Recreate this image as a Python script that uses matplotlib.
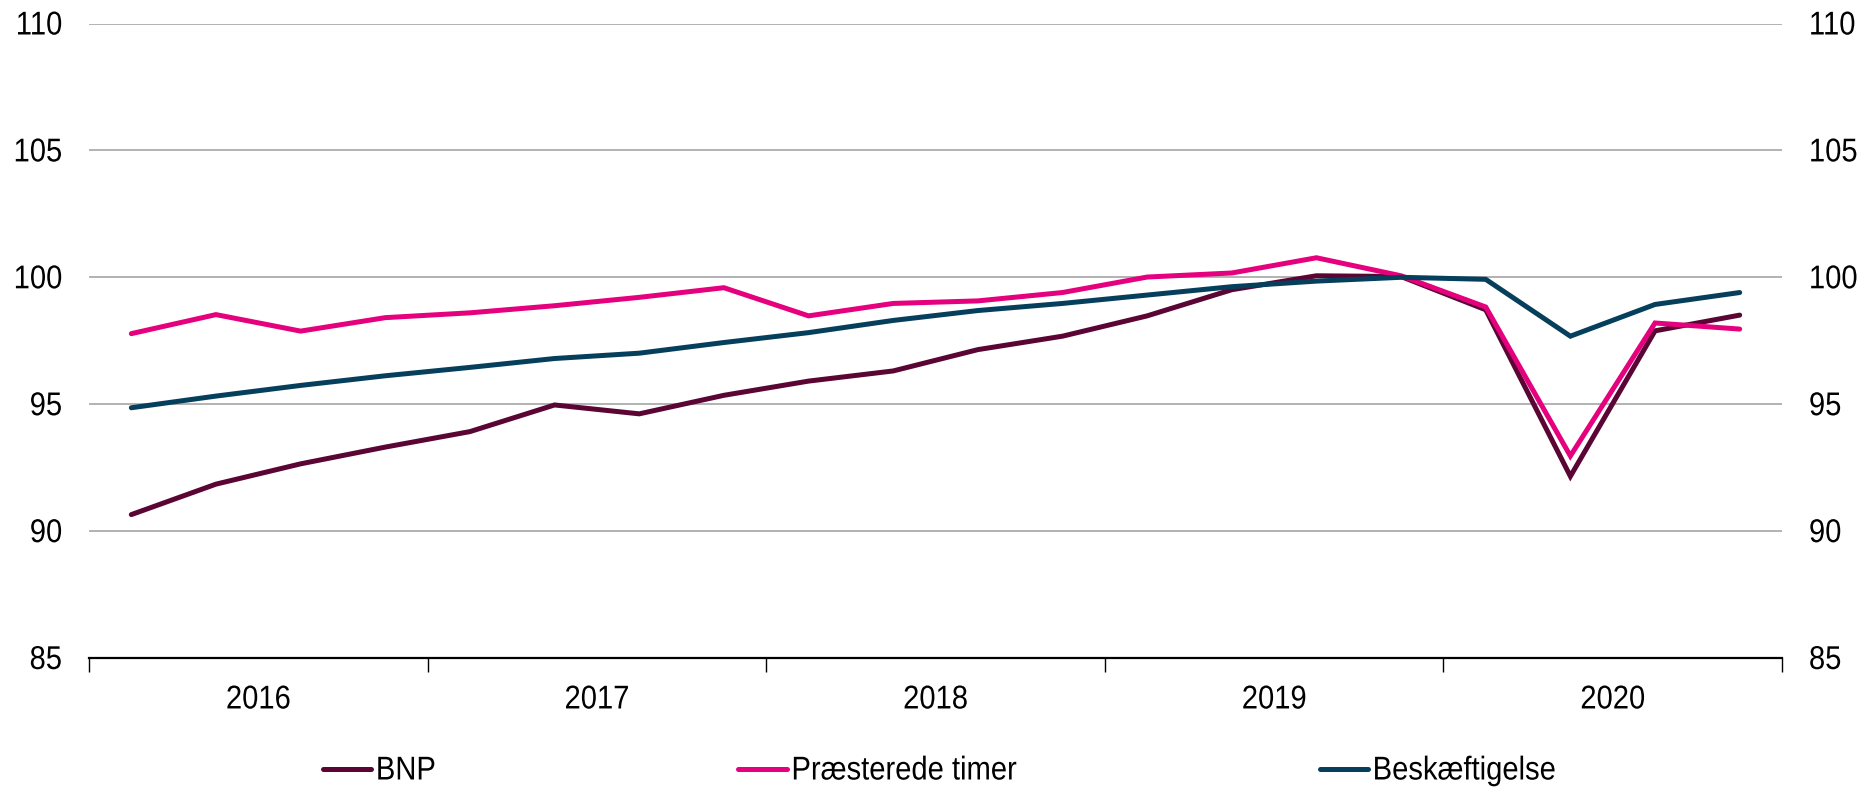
import matplotlib
matplotlib.use("Agg")
import matplotlib.pyplot as plt
import numpy as np
from matplotlib.patheffects import AbstractPathEffect
from matplotlib.transforms import Affine2D

plt.rcParams['font.family'] = ['Liberation Sans', 'DejaVu Sans']

years = ["2016", "2017", "2018", "2019", "2020"]
bnp = [90.65, 91.85, 92.65, 93.31, 93.92, 94.97, 94.62, 95.35, 95.91, 96.31,
       97.15, 97.68, 98.48, 99.51, 100.06, 100.03, 98.72, 92.16, 97.89, 98.51]
timer = [97.78, 98.53, 97.88, 98.41, 98.60, 98.88, 99.21, 99.59, 98.48, 98.97,
         99.07, 99.40, 100.01, 100.17, 100.77, 100.06, 98.83, 92.96, 98.20, 97.96]
besk = [94.86, 95.32, 95.74, 96.12, 96.45, 96.80, 97.01, 97.43, 97.82, 98.30,
        98.69, 98.97, 99.30, 99.63, 99.85, 100.00, 99.92, 97.68, 98.93, 99.40]
labels = ["BNP", "Præsterede timer", "Beskæftigelse"]
colors = ["#5a0533", "#e5007d", "#063f5c"]
yticks = [85, 90, 95, 100, 105, 110]


class VStretch(AbstractPathEffect):
    """Stretch glyphs vertically from the baseline (narrow-looking font)."""
    def __init__(self, sy):
        super().__init__()
        self.sy = sy

    def draw_path(self, renderer, gc, tpath, affine, rgbFace=None):
        renderer.draw_path(gc, tpath, Affine2D().scale(1, self.sy) + affine, rgbFace)


FS = 21
stretch = [VStretch(1.13)]

fig = plt.figure(figsize=(18.6, 7.87), dpi=100)
ax = fig.add_axes([89/1860, 1-658/787, (1782-89)/1860, (658-23.5)/787])

x = np.arange(len(bnp)) + 0.5
for s, lab, c in zip([bnp, timer, besk], labels, colors):
    ax.plot(x, s, color=c, lw=3.6, label=lab, solid_joinstyle='miter',
            solid_capstyle='round')

ax.set_xlim(0, len(bnp))
ax.set_ylim(85, 110)
ax.set_yticks(yticks)
ax.yaxis.grid(True, color="#a6a6a6", lw=1.2)
ax.set_axisbelow(True)
for sp in ["top", "left", "right"]:
    ax.spines[sp].set_visible(False)
ax.spines["bottom"].set_color("black")
ax.spines["bottom"].set_linewidth(1.6)

ax.set_xticks(np.arange(0, len(bnp) + 1, 4))
ax.set_xticklabels([])
ax.set_xticks(np.arange(2, len(bnp), 4), minor=True)
ax.set_xticklabels(years, minor=True)
ax.tick_params(axis="x", which="major", length=10, width=1, color="black")
ax.tick_params(axis="x", which="minor", length=0, pad=20.5, labelsize=FS)
ax.tick_params(axis="y", length=0, labelsize=FS, pad=19.4)

ax2 = ax.twinx()
ax2.set_ylim(ax.get_ylim())
ax2.set_yticks(yticks)
ax2.tick_params(axis="y", length=0, labelsize=FS, pad=19.4)
for sp in ax2.spines.values():
    sp.set_visible(False)

leg = fig.legend(loc="center", bbox_to_anchor=(0.505, 0.0197), ncol=3, frameon=False,
                 fontsize=FS, handlelength=1.65, handletextpad=0.17, columnspacing=10.38)
for h in leg.get_lines():
    h.set_solid_capstyle('round')

for t in (ax.get_yticklabels() + ax2.get_yticklabels()
          + ax.get_xticklabels(minor=True) + leg.get_texts()):
    t.set_path_effects(stretch)

fig.savefig("out.png", dpi=100, facecolor="white")
